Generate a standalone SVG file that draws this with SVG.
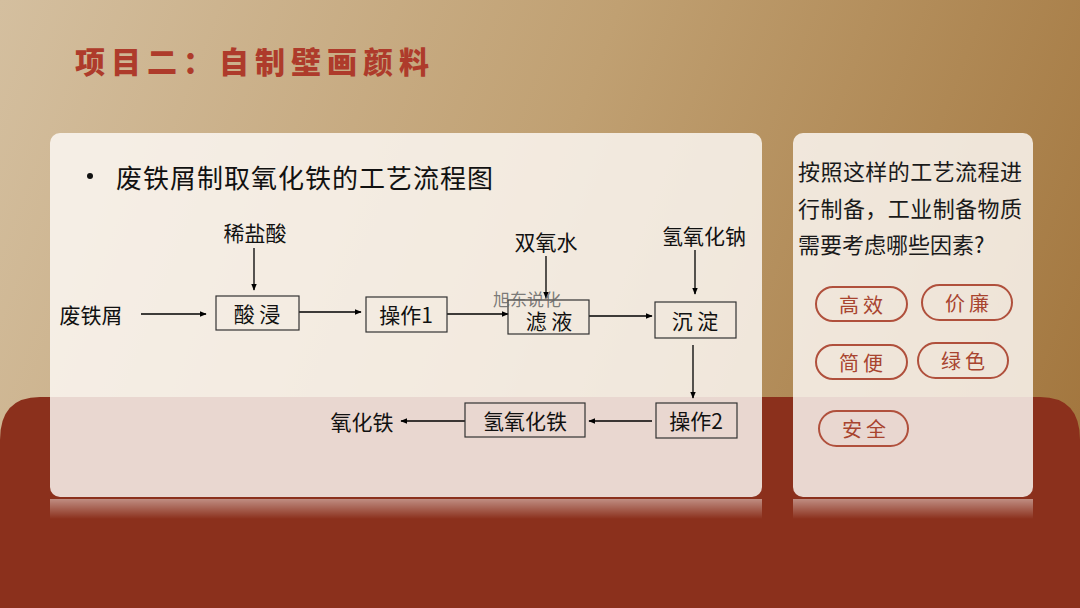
<svg xmlns="http://www.w3.org/2000/svg" width="1080" height="608" viewBox="0 0 1080 608">
<defs>
<linearGradient id="bg" x1="0" y1="0" x2="1080" y2="420" gradientUnits="userSpaceOnUse">
<stop offset="0" stop-color="#d4bf9f"/>
<stop offset="0.5" stop-color="#c0a072"/>
<stop offset="1" stop-color="#a3773f"/>
</linearGradient>
<linearGradient id="refl" x1="0" y1="0" x2="0" y2="1">
<stop offset="0" stop-color="#ffffff" stop-opacity="0.45"/>
<stop offset="1" stop-color="#ffffff" stop-opacity="0"/>
</linearGradient>
<marker id="ah" viewBox="0 0 10 10" refX="9" refY="5" markerWidth="7" markerHeight="7" markerUnits="userSpaceOnUse" orient="auto">
<path d="M0,1 L10,5 L0,9 Z" fill="#000"/>
</marker>
<style>
.lbl{font-family:"Noto Sans CJK SC","Liberation Sans",sans-serif;font-size:21px;fill:#111;text-anchor:middle;dominant-baseline:central}
.box{fill:none;stroke:#333;stroke-width:1.2}
.ln{stroke:#000;stroke-width:1.3;fill:none;marker-end:url(#ah)}
.pill{fill:none;stroke:#b0503c;stroke-width:2}
.pt{font-family:"Noto Sans CJK SC","Liberation Sans",sans-serif;font-size:20px;fill:#a8442f;text-anchor:middle;dominant-baseline:central;letter-spacing:4px}
.q{font-family:"Noto Sans CJK SC","Liberation Sans",sans-serif;font-size:22px;fill:#1a1a1a}
</style>
</defs>
<rect width="1080" height="608" fill="url(#bg)"/>
<path d="M0,440 Q0,397 40,397 L1040,397 Q1080,397 1080,440 L1080,608 L0,608 Z" fill="#8b301c"/>
<text x="75" y="73" font-family="'Noto Sans CJK SC',sans-serif" font-weight="900" font-size="30" fill="#ae3b2b" letter-spacing="6">项目二：自制壁画颜料</text>

<g id="panel-left">
<rect x="50" y="133" width="712" height="364" rx="10" fill="#fcf9f5" fill-opacity="0.83"/>
<rect x="50" y="499" width="712" height="20" fill="url(#refl)"/>
</g>
<g id="panel-right">
<rect x="793" y="133" width="240" height="364" rx="10" fill="#fcf9f5" fill-opacity="0.83"/>
<rect x="793" y="499" width="240" height="20" fill="url(#refl)"/>
</g>

<g id="heading">
<circle cx="90" cy="176" r="3" fill="#111"/>
<text x="116" y="176" font-family="'Noto Sans CJK SC',sans-serif" font-size="26" fill="#111" dominant-baseline="central" textLength="377">废铁屑制取氧化铁的工艺流程图</text>
</g>

<g id="connectors">
<line class="ln" x1="141" y1="314" x2="206" y2="314"/>
<line class="ln" x1="254" y1="248" x2="254" y2="290"/>
<line class="ln" x1="299" y1="312" x2="361" y2="312"/>
<line class="ln" x1="447" y1="314" x2="508" y2="314"/>
<line class="ln" x1="546" y1="256" x2="546" y2="298"/>
<line class="ln" x1="589" y1="316" x2="652" y2="316"/>
<line class="ln" x1="695" y1="250" x2="695" y2="294"/>
<line class="ln" x1="693" y1="345" x2="693" y2="398"/>
<line class="ln" x1="652" y1="421" x2="589" y2="421"/>
<line class="ln" x1="465" y1="421" x2="401" y2="421"/>
</g>

<g id="n-feitiexie"><text class="lbl" x="91" y="314">废铁屑</text></g>
<g id="n-xiyansuan"><text class="lbl" x="255" y="232">稀盐酸</text></g>
<g id="n-suanjin"><rect class="box" x="216" y="296" width="83" height="34"/><text class="lbl" x="257" y="313">酸 浸</text></g>
<g id="n-caozuo1"><rect class="box" x="366" y="297" width="81" height="35"/><text class="lbl" x="406" y="314">操作1</text></g>
<g id="n-shuangyangshui"><text class="lbl" x="546" y="241">双氧水</text></g>
<g id="n-lvye"><rect class="box" x="508" y="300" width="81" height="34"/><text class="lbl" x="549" y="320">滤 液</text></g>
<g id="n-qingyanghuana"><text class="lbl" x="704" y="235">氢氧化钠</text></g>
<g id="n-chendian"><rect class="box" x="655" y="302" width="81" height="36"/><text class="lbl" x="695" y="320">沉 淀</text></g>
<g id="n-caozuo2"><rect class="box" x="656" y="403" width="81" height="35"/><text class="lbl" x="696" y="420">操作2</text></g>
<g id="n-qingyanghuatie"><rect class="box" x="465" y="403" width="120" height="34"/><text class="lbl" x="525" y="420">氢氧化铁</text></g>
<g id="n-yanghuatie"><text class="lbl" x="362" y="421">氧化铁</text></g>
<text x="527" y="298" font-family="'Noto Sans CJK SC',sans-serif" font-size="17" fill="#666" fill-opacity="0.85" text-anchor="middle" dominant-baseline="central">旭东说化</text>

<g id="question">
<text class="q" x="798" y="170" dominant-baseline="central" textLength="224">按照这样的工艺流程进</text>
<text class="q" x="798" y="207" dominant-baseline="central" textLength="224">行制备，工业制备物质</text>
<text class="q" x="798" y="243" dominant-baseline="central">需要考虑哪些因素?</text>
</g>
<g id="p-gaoxiao"><rect class="pill" x="816" y="287" width="91" height="34" rx="17"/><text class="pt" x="863" y="304">高效</text></g>
<g id="p-jialian"><rect class="pill" x="922" y="285" width="90" height="35" rx="17.5"/><text class="pt" x="969" y="302">价廉</text></g>
<g id="p-jianbian"><rect class="pill" x="816" y="345" width="91" height="34" rx="17"/><text class="pt" x="863" y="362">简便</text></g>
<g id="p-lvse"><rect class="pill" x="918" y="343" width="90" height="35" rx="17.5"/><text class="pt" x="965" y="360">绿色</text></g>
<g id="p-anquan"><rect class="pill" x="819" y="411" width="89" height="35" rx="17.5"/><text class="pt" x="866" y="428">安全</text></g>
</svg>
